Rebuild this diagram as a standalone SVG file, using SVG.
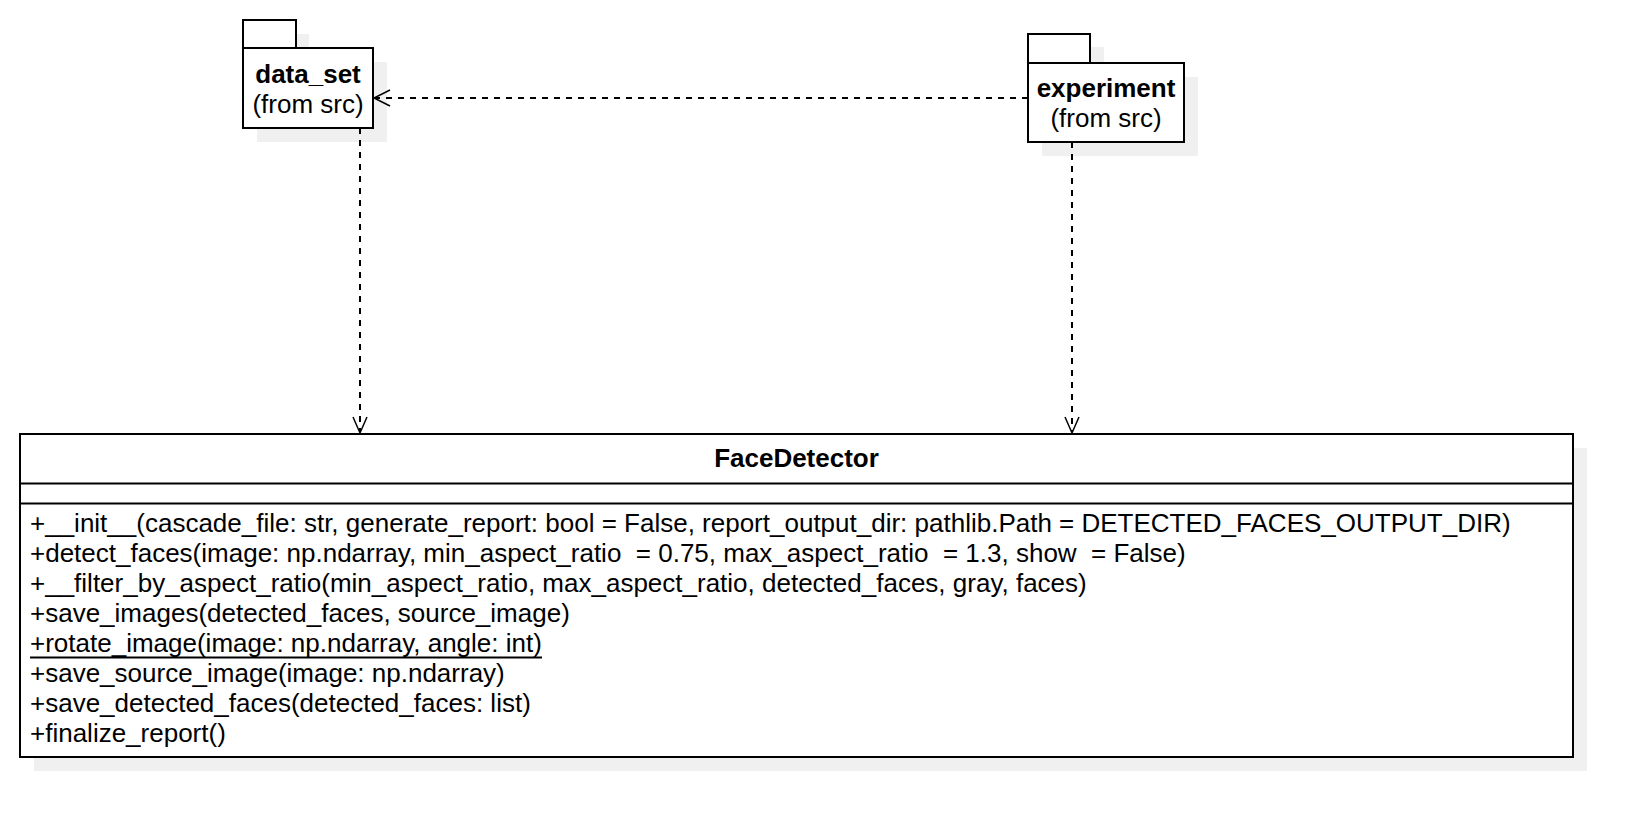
<svg xmlns="http://www.w3.org/2000/svg" width="1652" height="838" viewBox="0 0 1652 838">
<style>
.box{fill:#fff;stroke:#000;stroke-width:2}
.shadow{fill:#f0f0f0;stroke:none}
.t{font-family:"Liberation Sans",Arial,sans-serif;font-size:26px;fill:#000;white-space:pre}
.b{font-weight:bold}
.edge{fill:none;stroke:#000;stroke-width:2;stroke-dasharray:6 6}
.head{fill:none;stroke:#000;stroke-width:1.5}
</style>
<rect width="1652" height="838" fill="#fff"/>
<g id="data_set">
<rect class="shadow" x="257" y="34" width="52" height="28"/>
<rect class="shadow" x="257" y="62" width="130" height="80"/>
<rect class="box" x="243" y="20" width="53" height="28"/>
<rect class="box" x="243" y="48" width="130" height="80"/>
<text class="t b" x="308" y="83" text-anchor="middle">data_set</text>
<text class="t" x="308" y="113" text-anchor="middle">(from src)</text>
</g>
<g id="experiment">
<rect class="shadow" x="1042" y="47" width="62" height="28"/>
<rect class="shadow" x="1042" y="77" width="156" height="79"/>
<rect class="box" x="1028" y="34" width="62" height="29"/>
<rect class="box" x="1028" y="63" width="156" height="79"/>
<text class="t b" x="1106" y="97" text-anchor="middle">experiment</text>
<text class="t" x="1106" y="127" text-anchor="middle">(from src)</text>
</g>
<g id="FaceDetector">
<rect class="shadow" x="34" y="448" width="1553" height="323"/>
<rect class="box" x="20" y="434" width="1553" height="323"/>
<line x1="20" y1="483.5" x2="1573" y2="483.5" stroke="#000" stroke-width="2"/>
<line x1="20" y1="503.5" x2="1573" y2="503.5" stroke="#000" stroke-width="2"/>
<text class="t b" x="796.5" y="467" text-anchor="middle">FaceDetector</text>
<text class="t" x="30" y="532" xml:space="preserve">+__init__(cascade_file: str, generate_report: bool = False, report_output_dir: pathlib.Path = DETECTED_FACES_OUTPUT_DIR)</text>
<text class="t" x="30" y="562" xml:space="preserve">+detect_faces(image: np.ndarray, min_aspect_ratio  = 0.75, max_aspect_ratio  = 1.3, show  = False)</text>
<text class="t" x="30" y="592" xml:space="preserve">+__filter_by_aspect_ratio(min_aspect_ratio, max_aspect_ratio, detected_faces, gray, faces)</text>
<text class="t" x="30" y="622">+save_images(detected_faces, source_image)</text>
<text class="t" x="30" y="652">+rotate_image(image: np.ndarray, angle: int)</text>
<line x1="30" y1="657.5" x2="542" y2="657.5" stroke="#000" stroke-width="2"/>
<text class="t" x="30" y="682">+save_source_image(image: np.ndarray)</text>
<text class="t" x="30" y="712">+save_detected_faces(detected_faces: list)</text>
<text class="t" x="30" y="742">+finalize_report()</text>
</g>
<g id="connectors">
<line class="edge" x1="1028" y1="98" x2="375" y2="98"/>
<polyline class="head" points="390,90 374,98 390,106"/>
<line class="edge" x1="360" y1="128" x2="360" y2="432"/>
<polyline class="head" points="353,417 360,433 367,417"/>
<line class="edge" x1="1072" y1="142" x2="1072" y2="432"/>
<polyline class="head" points="1065,417 1072,433 1079,417"/>
</g>
</svg>
